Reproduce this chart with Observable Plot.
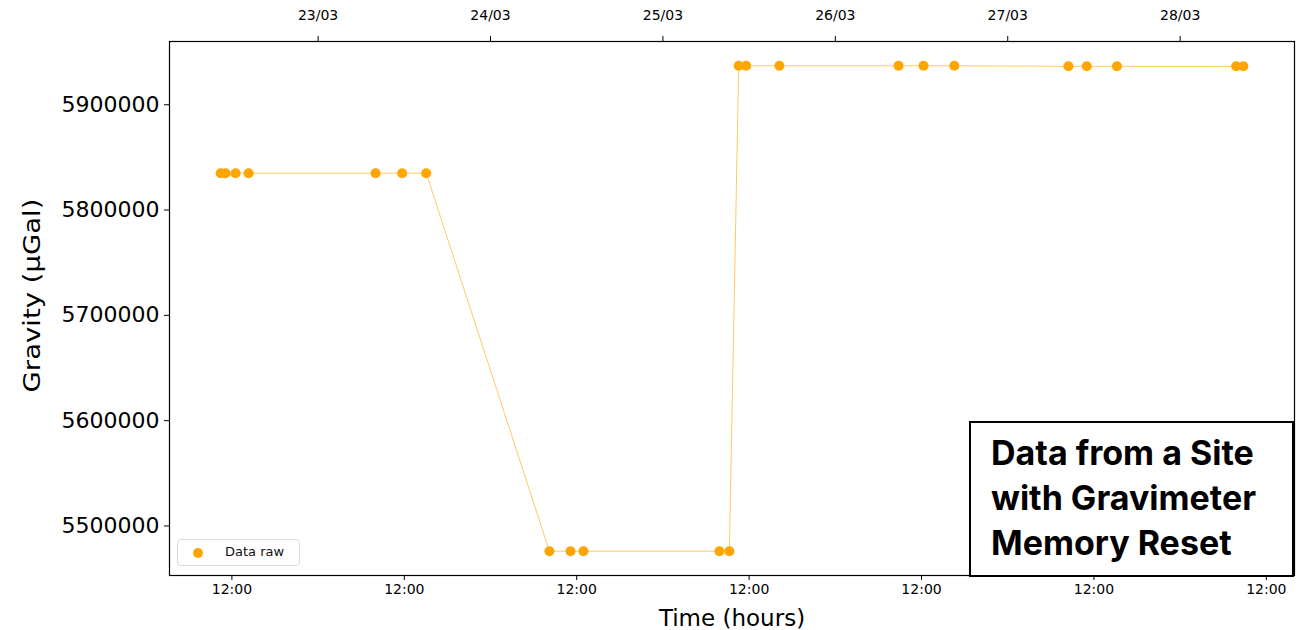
<!DOCTYPE html>
<html>
<head>
<meta charset="utf-8">
<script src="https://cdn.jsdelivr.net/npm/d3@7"></script>
<script src="https://cdn.jsdelivr.net/npm/@observablehq/plot@0.6"></script>
<style>
  html, body { margin: 0; padding: 0; background: #fff; }
  #wrap { position: relative; width: 1300px; height: 630px; font-family: "DejaVu Sans", sans-serif; }
  #legend { position: absolute; left: 177px; top: 539px; width: 123px; height: 27px; border: 1px solid #d9d9d9; border-radius: 4px; background: rgba(255,255,255,0.8); box-sizing: border-box; font-size: 13px; color: #111; }
  #legend .dot { position: absolute; left: 15px; top: 8px; width: 10px; height: 10px; border-radius: 50%; background: orange; }
  #legend .lab { position: absolute; left: 47px; top: 4px; }
  #note { position: absolute; left: 969px; top: 421px; width: 325px; height: 156px; border: 2px solid #000; background: #fff; box-sizing: border-box; font-family: Inter, "Open Sans", sans-serif; font-weight: 700; font-size: 34px; line-height: 45px; color: #000; padding: 7px 0 0 20px; white-space: nowrap; overflow: hidden; }
</style>
</head>
<body>
<div id="wrap">
  <div id="chart"></div>
  <div id="legend"><span class="dot"></span><span class="lab">Data raw</span></div>
  <div id="note">Data from a Site<br>with Gravimeter<br>Memory Reset</div>
</div>
<script>
// Observation times (UTC) and raw gravity readings (µGal)
const times = [
  "2025-03-22T10:26", "2025-03-22T11:08", "2025-03-22T12:31", "2025-03-22T14:20",
  "2025-03-23T08:00", "2025-03-23T11:42", "2025-03-23T15:03",
  "2025-03-24T08:12", "2025-03-24T11:08", "2025-03-24T12:56",
  "2025-03-25T07:52", "2025-03-25T09:15",
  "2025-03-25T10:33", "2025-03-25T11:35", "2025-03-25T16:13",
  "2025-03-26T08:48", "2025-03-26T12:17", "2025-03-26T16:34",
  "2025-03-27T08:27", "2025-03-27T11:00", "2025-03-27T15:12",
  "2025-03-28T07:48", "2025-03-28T08:48"
];
const gravity = [
  5835000, 5835000, 5835000, 5835000,
  5835000, 5835000, 5835000,
  5476000, 5476000, 5476000,
  5476000, 5476000,
  5937000, 5937000, 5937000,
  5937000, 5937000, 5937000,
  5936500, 5936500, 5936500,
  5936500, 5936500
];
const yTicks = [5500000, 5600000, 5700000, 5800000, 5900000];
const dayTicks = ["2025-03-23", "2025-03-24", "2025-03-25", "2025-03-26", "2025-03-27", "2025-03-28"];
const noonTicks = ["2025-03-22T12:00", "2025-03-23T12:00", "2025-03-24T12:00", "2025-03-25T12:00", "2025-03-26T12:00", "2025-03-27T12:00", "2025-03-28T12:00"];
const seriesLabel = "Data raw";
const yLabel = "Gravity (µGal)";

const parse = s => new Date(s + (s.length === 10 ? "T00:00Z" : "Z"));
const data = times.map((t, i) => ({time: parse(t), g: gravity[i]}));

const tMin = d3.min(data, d => d.time), tMax = d3.max(data, d => d.time);
const tPad = (tMax - tMin) * 0.05;
const gMin = d3.min(gravity), gMax = d3.max(gravity);
const gPad = (gMax - gMin) * 0.05;

const chart = Plot.plot({
  width: 1300,
  height: 630,
  marginLeft: 169,
  marginRight: 6,
  marginTop: 41,
  marginBottom: 55,
  style: {fontFamily: "DejaVu Sans, sans-serif", color: "#000", background: "#fff"},
  x: {type: "utc", domain: [new Date(+tMin - tPad), new Date(+tMax + tPad)]},
  y: {domain: [gMin - gPad, gMax + gPad]},
  marks: [
    Plot.frame({stroke: "#000", strokeWidth: 1.2}),
    Plot.line(data, {x: "time", y: "g", stroke: "orange", strokeOpacity: 0.6, strokeWidth: 1}),
    Plot.dot(data, {x: "time", y: "g", r: 5, fill: "orange", stroke: "none"}),
    Plot.axisX({anchor: "top", ticks: dayTicks.map(parse), tickFormat: d3.utcFormat("%d/%m"), tickSize: 6, tickPadding: 16, fontSize: 14, label: null}),
    Plot.axisX({anchor: "bottom", ticks: noonTicks.map(parse), tickFormat: d3.utcFormat("%H:%M"), tickSize: 5, tickPadding: 4, fontSize: 14, label: "Time (hours)", labelAnchor: "center", labelArrow: "none", labelOffset: 50}),
    Plot.axisY({ticks: yTicks, tickFormat: d => String(d), tickSize: 5, tickPadding: 5, fontSize: 22, label: null}),
    Plot.text([yLabel], {text: d => d, frameAnchor: "left", textAnchor: "middle", lineAnchor: "middle", dx: -137, dy: -13, rotate: -90, fontSize: 23, fill: "#000", className: "ylab"})
  ]
});
document.getElementById("chart").appendChild(chart);
d3.select(chart).selectAll("[aria-label='x-axis label'] text").style("font-size", "23px");
d3.select(chart).selectAll(".ylab text")
  .attr("textLength", 194)
  .attr("lengthAdjust", "spacingAndGlyphs");
</script>
</body>
</html>
